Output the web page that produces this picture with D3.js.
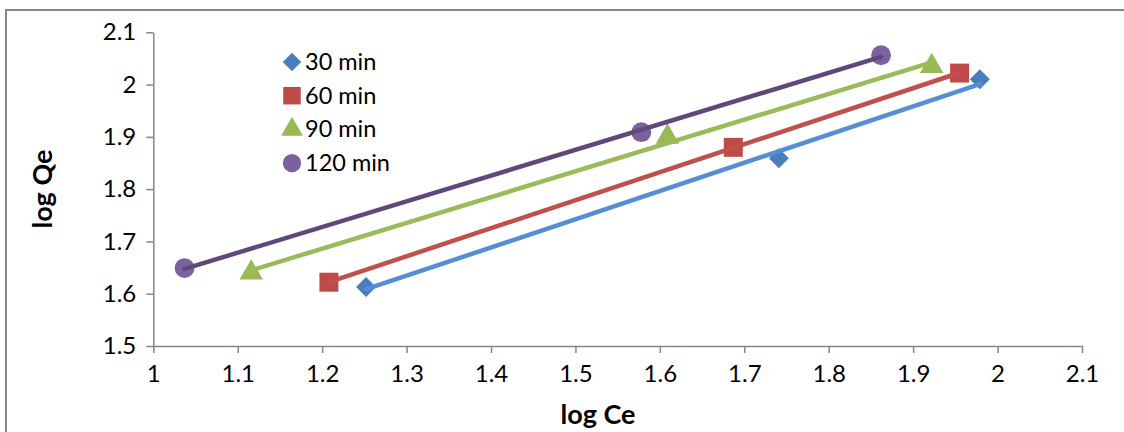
<!DOCTYPE html>
<html>
<head>
<meta charset="utf-8">
<title>log Qe vs log Ce</title>
<script src="https://cdnjs.cloudflare.com/ajax/libs/d3/7.8.5/d3.min.js"></script>
<style>
body { margin: 0; background: #fff; }
text { font-family: Lato, "Open Sans", sans-serif; fill: #000; }
.axis path, .axis line { stroke: #868686; stroke-width: 1.5px; }
.title { font-size: 27px; font-weight: bold; }
.legend text { font-size: 23.5px; }
</style>
</head>
<body>
<svg id="chart" width="1124" height="432"></svg>
<script>
// data
var series = ["30 min", "60 min", "90 min", "120 min"];
var logCe = [
  [1.252, 1.741, 1.979],
  [1.208, 1.687, 1.955],
  [1.116, 1.609, 1.922],
  [1.037, 1.578, 1.862]
];
var logQe = [
  [1.613, 1.859, 2.010],
  [1.622, 1.880, 2.022],
  [1.640, 1.900, 2.035],
  [1.649, 1.909, 2.056]
];
var xTicks = [1, 1.1, 1.2, 1.3, 1.4, 1.5, 1.6, 1.7, 1.8, 1.9, 2, 2.1];
var yTicks = [1.5, 1.6, 1.7, 1.8, 1.9, 2, 2.1];

var markColors = ["#4A7EBB", "#BE4B48", "#98B954", "#7D60A0"];
var lineColors = ["#558ED5", "#C0504D", "#9BBB59", "#5F497A"];
var shapes = [d3.symbolSquare, d3.symbolSquare, d3.symbolTriangle, d3.symbolCircle];
var sizes = [200, 360, 240, 310];
var rotate = [45, 0, 0, 0];

var svg = d3.select("#chart");

// outer chart border
svg.append("rect")
  .attr("x", 6).attr("y", 10)
  .attr("width", 1130).attr("height", 440)
  .attr("fill", "none").attr("stroke", "#868686").attr("stroke-width", 2);

var x = d3.scaleLinear().domain([1, 2.1]).range([153.3, 1082]);
var y = d3.scaleLinear().domain([1.5, 2.1]).range([346, 32.3]);

var fmt = function(d) { return d3.format("")(+d.toFixed(1)); };

var xAxis = svg.append("g").attr("class", "axis")
  .attr("transform", "translate(0," + y(1.5) + ")")
  .call(d3.axisBottom(x).tickValues(xTicks).tickFormat(fmt).tickSize(7).tickSizeOuter(0).tickPadding(12));

var yAxis = svg.append("g").attr("class", "axis")
  .attr("transform", "translate(" + x(1) + ",0)")
  .call(d3.axisLeft(y).tickValues(yTicks).tickFormat(fmt).tickSize(7).tickSizeOuter(0).tickPadding(10));

xAxis.attr("font-size", 24).attr("font-family", "Lato, sans-serif");
yAxis.attr("font-size", 24).attr("font-family", "Lato, sans-serif");

// markers
series.forEach(function(s, i) {
  var pts = d3.zip(logCe[i], logQe[i]);
  svg.append("g").selectAll("path").data(pts).join("path")
    .attr("d", d3.symbol().type(shapes[i]).size(sizes[i]))
    .attr("transform", function(d) { return "translate(" + x(d[0]) + "," + y(d[1]) + ") rotate(" + rotate[i] + ")"; })
    .attr("fill", markColors[i]);
});

// linear trendlines (least squares) over each series' x range
series.forEach(function(s, i) {
  var xs = logCe[i], ys = logQe[i];
  var mx = d3.mean(xs), my = d3.mean(ys);
  var b = d3.sum(xs, function(v, k) { return (v - mx) * (ys[k] - my); }) /
          d3.sum(xs, function(v) { return (v - mx) * (v - mx); });
  var a = my - b * mx;
  var ends = d3.extent(xs).map(function(v) { return [v, a + b * v]; });
  svg.append("path")
    .datum(ends)
    .attr("d", d3.line().x(function(d) { return x(d[0]); }).y(function(d) { return y(d[1]); }))
    .attr("stroke", lineColors[i]).attr("stroke-width", 4.5)
    .attr("stroke-linecap", "round").attr("fill", "none");
});

// axis titles
svg.append("text").attr("class", "title")
  .attr("x", 598).attr("y", 424).attr("text-anchor", "middle").text("log Ce");
svg.append("text").attr("class", "title")
  .attr("transform", "translate(52,189) rotate(-90)")
  .attr("text-anchor", "middle").text("log Qe");

// legend
var legend = svg.append("g").attr("class", "legend");
series.forEach(function(s, i) {
  var ly = 62 + i * 33.7;
  legend.append("path")
    .attr("d", d3.symbol().type(shapes[i]).size(sizes[i] * 0.85))
    .attr("transform", "translate(292," + ly + ") rotate(" + rotate[i] + ")")
    .attr("fill", markColors[i]);
  legend.append("text").attr("x", 305).attr("y", ly + 8).text(s);
});
</script>
</body>
</html>
